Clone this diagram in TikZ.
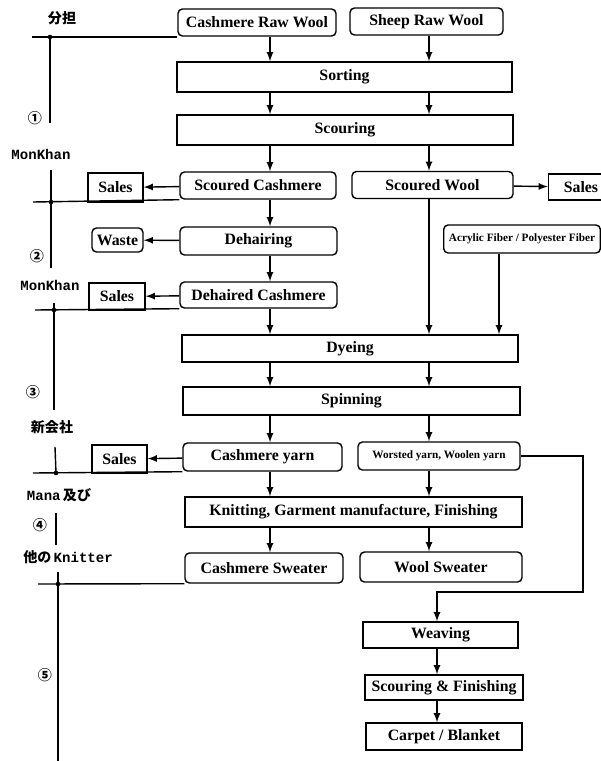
\documentclass[tikz,border=0pt]{standalone}
\usepackage{fontspec}
\setmainfont{Liberation Serif}
\setmonofont{Liberation Mono}
\newfontfamily\cjk{Noto Sans CJK JP}
\usetikzlibrary{arrows}
\usetikzlibrary{positioning}
\newcommand{\down}[3]{\draw[flow] (#1.south -| #3) -- (#2.north -| #3)}
\newcommand{\junction}[2]{\coordinate (#1) at (#2); \fill (#1) circle[radius=1.3pt]}
\tikzset{
  box/.style={draw, thick, font=\bfseries\fontsize{9}{10}\selectfont, minimum height=0.54cm, inner sep=1pt},
  rbox/.style={box, rounded corners=2.5pt},
  tiny/.style={font=\bfseries\fontsize{6.4}{7}\selectfont},
  flow/.style={-latex, thick},
  divider/.style={thick},
  tag/.style={font=\cjk\bfseries\fontsize{8}{9}\selectfont},
  firm/.style={font=\ttfamily\bfseries\fontsize{8}{9}\selectfont},
}

\begin{document}
\begin{tikzpicture}[x=0.02cm, y=-0.02cm]
    \clip (0,0) rectangle (601,761);
    \coordinate (cl) at (270,0);
    \coordinate (cr) at (429,0);
    \coordinate (ca) at (499,0);
    \coordinate (cw) at (437,0);
    \node[rbox, minimum width=3.16cm] (craw) at (257,22.5) {Cashmere Raw Wool};
    \node[rbox, minimum width=3.06cm] (sraw) at (426.5,21.5) {Sheep Raw Wool};
    \node[box, minimum width=6.7cm, minimum height=0.6cm] (sort) at (344.5,77) {Sorting};
    \node[box, minimum width=6.72cm, minimum height=0.6cm] (scour) at (345,130) {Scouring};
    \node[rbox, minimum width=3.12cm] (scash) at (258,185.5) {Scoured Cashmere};
    \node[rbox, minimum width=3.22cm] (swool) at (432.5,185) {Scoured Wool};
    \node[box, minimum width=1.3cm, minimum height=0.52cm] (salesr) at (581,187) {Sales};
    \node[box, minimum width=1.1cm, minimum height=0.58cm] (sales1) at (115.5,187.5) {Sales};
    \node[rbox, minimum width=3.14cm, minimum height=0.56cm] (dehair) at (258.5,241) {Dehairing};
    \node[rbox, minimum width=1.02cm, minimum height=0.48cm] (waste) at (117.5,240) {Waste};
    \node[rbox, minimum width=3.14cm, minimum height=0.52cm] (dcash) at (258.5,295) {Dehaired Cashmere};
    \node[box, minimum width=1.12cm] (sales2) at (117,296.5) {Sales};
    \node[rbox, tiny, minimum height=0.56cm, inner sep=3pt, anchor=west] (acryl) at (443,239) {Acrylic Fiber / Polyester Fiber};
    \node[box, minimum width=6.72cm] (dye) at (350,348.5) {Dyeing};
    \node[box, minimum width=6.74cm, minimum height=0.56cm] (spin) at (351.5,401) {Spinning};
    \node[rbox, minimum width=3.18cm, minimum height=0.56cm] (cyarn) at (262.5,457) {Cashmere yarn};
    \node[rbox, tiny, minimum width=3.24cm, minimum height=0.56cm] (wyarn) at (439,456) {Worsted yarn, Woolen yarn};
    \node[box, minimum width=1.1cm, minimum height=0.56cm] (sales3) at (119.5,459) {Sales};
    \node[box, minimum width=6.74cm, minimum height=0.6cm] (knit) at (353.5,512) {Knitting, Garment manufacture, Finishing};
    \node[rbox, minimum width=3.16cm, minimum height=0.6cm] (csweat) at (264,568) {Cashmere Sweater};
    \node[rbox, minimum width=3.24cm, minimum height=0.6cm] (wsweat) at (441,567) {Wool Sweater};
    \node[box, minimum width=3.1cm, minimum height=0.52cm] (weave) at (440.5,635) {Weaving};
    \node[box, minimum width=3.16cm, minimum height=0.5cm] (scfin) at (444,687.5) {Scouring \& Finishing};
    \node[box, minimum width=3.12cm] (carpet) at (444,736.5) {Carpet / Blanket};
    \down{craw}{sort}{cl};
    \down{sraw}{sort}{cr};
    \down{sort}{scour}{cl};
    \down{sort}{scour}{cr};
    \down{scour}{scash}{cl};
    \down{scour}{swool}{cr};
    \down{scash}{dehair}{cl};
    \down{dehair}{dcash}{cl};
    \down{dcash}{dye}{cl};
    \down{swool}{dye}{cr};
    \down{acryl}{dye}{ca};
    \down{dye}{spin}{cl};
    \down{dye}{spin}{cr};
    \down{spin}{cyarn}{cl};
    \down{spin}{wyarn}{cr};
    \down{cyarn}{knit}{cl};
    \down{wyarn}{knit}{cr};
    \down{knit}{csweat}{cl};
    \down{knit}{wsweat}{cr};
    \down{weave}{scfin}{cw};
    \down{scfin}{carpet}{cw};
    \draw[flow] (scash) -- (sales1);
    \draw[flow] (swool) -- (salesr);
    \draw[flow] (dehair) -- (waste);
    \draw[flow] (dcash) -- (sales2);
    \draw[flow] (cyarn) -- (sales3);
    \coordinate (turn) at (583,592);
    \draw[flow] (wyarn.east) -| (turn) -| (weave.north -| cw);
    \node[tag] (lab0) at (62,18) {分担};
    \node[tag] (lab1) at (35,118) {①};
    \node[firm] (lab2) at (41,154) {MonKhan};
    \node[tag] (lab3) at (37,256) {②};
    \node[firm] (lab4) at (50,285) {MonKhan};
    \node[tag] (lab5) at (33,392) {③};
    \node[tag] (lab6) at (52,427) {新会社};
    \node[firm] (lab7) at (59,495) {Mana\,\cjk 及び};
    \node[tag] (lab8) at (40,525) {④};
    \node[firm] (lab9) at (68,557) {\cjk 他の\,\ttfamily Knitter};
    \node[tag] (lab10) at (45,675) {⑤};
    \junction{j1}{50,37};
    \junction{j2}{51,202};
    \junction{j3}{54,310};
    \junction{j4}{56,473};
    \junction{j5}{58,584};
    \draw[divider] (32,37) -- (craw.south west |- j1);
    \draw[divider] (33,202) -- (scash.south west);
    \draw[divider] (35,310) -- (dcash.south west);
    \draw[divider] (33,473) -- (cyarn.south west);
    \draw[divider] (38,584) -- (csweat.south west);
    \draw[divider] (j1) -- (50,123);
    \draw[divider] (51,170) -- (j2) -- (51,268);
    \draw[divider] (54,303) -- (j3) -- (54,410);
    \draw[divider] (55,447) -- (j4);
    \draw[divider] (56,513) -- (56,545);
    \draw[divider] (58,572) -- (j5) -- (58,761);
\end{tikzpicture}
\end{document}
